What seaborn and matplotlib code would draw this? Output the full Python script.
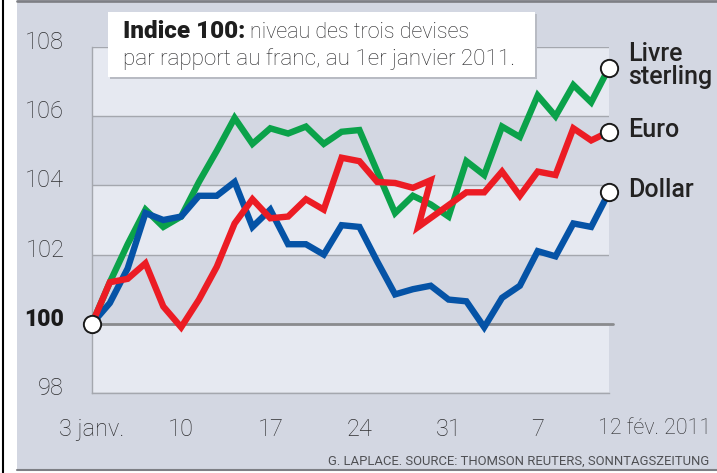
import matplotlib
matplotlib.use("Agg")
import matplotlib.pyplot as plt
import matplotlib.transforms as mtransforms
from matplotlib.patches import Rectangle
from matplotlib.lines import Line2D
import pandas as pd
import seaborn as sns

# Indice 100 au 3 janvier 2011, un point par jour de bourse
days = list(range(30))
livre = [100, 101.2, 102.3, 103.3, 102.8, 103.1, 104.1, 105.0, 105.95, 105.2,
         105.65, 105.5, 105.7, 105.2, 105.55, 105.6, 104.4, 103.2, 103.7, 103.45,
         103.1, 104.7, 104.3, 105.7, 105.4, 106.6, 106.0, 106.9, 106.4, 107.4]
dollar = [100, 100.6, 101.6, 103.2, 103.0, 103.1, 103.7, 103.7, 104.1, 102.8,
          103.3, 102.3, 102.3, 102.0, 102.85, 102.8, 101.8, 100.85, 101.0, 101.1,
          100.7, 100.65, 99.9, 100.75, 101.1, 102.1, 101.95, 102.9, 102.8, 103.8]
# the euro line doubles back on itself around 31 janv. in the original
euro_days = list(range(20)) + [18.3] + list(range(21, 30))
euro = [100, 101.2, 101.3, 101.75, 100.5, 99.9, 100.7, 101.65, 102.9, 103.6,
        103.05, 103.1, 103.6, 103.3, 104.8, 104.7, 104.1, 104.07, 103.93, 104.15,
        102.8, 103.8, 103.8, 104.4, 103.7, 104.4, 104.3, 105.65, 105.3, 105.55]

tick_days = [0, 5, 10, 15, 20, 25, 29]
tick_labels = ["3 janv.", "10", "17", "24", "31", "7", "12 fév. 2011"]
y_ticks = [98, 100, 102, 104, 106, 108]

series = ["livre", "dollar", "euro"]
series_labels = {"livre": "Livre\nsterling", "dollar": "Dollar", "euro": "Euro"}
palette = {"livre": "#0ba24a", "dollar": "#0553a6", "euro": "#ec1c24"}

df = pd.concat([
    pd.DataFrame({"jour": days, "indice": livre, "devise": "livre"}),
    pd.DataFrame({"jour": days, "indice": dollar, "devise": "dollar"}),
    pd.DataFrame({"jour": euro_days, "indice": euro, "devise": "euro"}),
], ignore_index=True)

sns.set_style("white")
plt.rcParams["font.family"] = ["Roboto", "DejaVu Sans"]

bg_dark = "#d3d7e2"
bg_light = "#e6e9f1"
grid_c = "#a4a7ae"
text_c = "#232222"
tick_c = "#2e2e30"

W, H = 717, 473
fig = plt.figure(figsize=(W / 100, H / 100), dpi=100, facecolor="white")

# gray panel behind everything
fig.patches.append(Rectangle((17 / W, 3 / H), 1, (470 - 3) / H, transform=fig.transFigure,
                             fc=bg_dark, ec="none", zorder=-10))
fig.add_artist(Line2D([2.5 / W, 2.5 / W], [0, 1], color="black", lw=1.5, transform=fig.transFigure))
fig.add_artist(Line2D([17 / W, 1], [1 - 1 / H, 1 - 1 / H], color="#7d7f85", lw=2, transform=fig.transFigure))
fig.add_artist(Line2D([17 / W, 1], [3 / H, 3 / H], color="#7d7f85", lw=1.5, transform=fig.transFigure))

ax = fig.add_axes([92 / W, (H - 393) / H, (609 - 92) / W, (393 - 47) / H])
ax.set_facecolor(bg_light)
ax.axhspan(104, 106, color=bg_dark, lw=0, zorder=0)
ax.axhspan(100, 102, color=bg_dark, lw=0, zorder=0)

sns.lineplot(data=df, x="jour", y="indice", hue="devise", hue_order=series,
             palette=palette, lw=4.6, sort=False, estimator=None, legend=False,
             ax=ax, zorder=3)
for ln in ax.get_lines():
    ln.set_solid_joinstyle("miter")
    ln.set_clip_on(False)

ax.set_xlim(0, 29)
ax.set_ylim(98, 108)

ax.set_yticks(y_ticks)
ax.set_yticklabels([str(v) for v in y_ticks])
ax.yaxis.grid(True, color=grid_c, lw=1)
ax.xaxis.grid(False)
ax.axhline(100, xmin=0, xmax=1.008, color="#8a8b8e", lw=2, zorder=1.5, clip_on=False)

ax.set_xticks(tick_days)
ax.set_xticklabels(tick_labels)
ax.set_xlabel("")
ax.set_ylabel("")

ax.tick_params(axis="y", length=11, width=1, color=grid_c, pad=9,
               labelsize=17, labelcolor=tick_c)
ax.tick_params(axis="x", length=12, width=1, color=grid_c, pad=6,
               labelsize=17, labelcolor=tick_c)
for lab in ax.get_yticklabels() + ax.get_xticklabels():
    lab.set_fontweight("light")

t100 = ax.yaxis.get_major_ticks()[1]
t100.tick1line.set_color("#8a8b8e")
t100.tick1line.set_markeredgewidth(2)
t100.label1.set_fontweight("heavy")
t100.label1.set_fontsize(16.5)
t100.label1.set_color("#1a1a1a")

up = mtransforms.ScaledTranslation(0, 5 / 72, fig.dpi_scale_trans)
for lab in ax.get_yticklabels():
    lab.set_transform(lab.get_transform() + up)
last = ax.get_xticklabels()[-1]
last.set_fontsize(15.5)
last.set_horizontalalignment("left")
last.set_transform(last.get_transform() + mtransforms.ScaledTranslation(-8 / 72, 0, fig.dpi_scale_trans))

for s in ["top", "right"]:
    ax.spines[s].set_visible(False)
for s in ["left", "bottom"]:
    ax.spines[s].set_color(grid_c)
    ax.spines[s].set_linewidth(1)

# circles at the start and at the end of each series
ends = pd.DataFrame({
    "jour": [days[0], days[-1], days[-1], euro_days[-1]],
    "indice": [livre[0], livre[-1], dollar[-1], euro[-1]],
})
sns.scatterplot(data=ends, x="jour", y="indice", s=155, color="white",
                edgecolor="#1a1a1a", linewidth=1.4, zorder=5, clip_on=False, ax=ax)
ax.set_xlabel("")
ax.set_ylabel("")

end_vals = {"livre": livre[-1], "dollar": dollar[-1], "euro": euro[-1]}
for s in series:
    ax.annotate(series_labels[s], xy=(days[-1], end_vals[s]), xytext=(13.5, 1.5),
                textcoords="offset points", ha="left", va="center", fontsize=18,
                fontweight="medium", color=text_c, linespacing=0.92,
                annotation_clip=False)

# title box
fig.patches.append(Rectangle(((108 + 2) / W, 1 - (77 + 2) / H), (535 - 108) / W, (77 - 12) / H,
                             transform=fig.transFigure, fc="#b8bbc3", ec="none", zorder=2))
fig.patches.append(Rectangle((108 / W, 1 - 77 / H), (535 - 108) / W, (77 - 12) / H,
                             transform=fig.transFigure, fc="white", ec="none", zorder=3))
t1 = fig.text(123 / W, 1 - 38 / H, "Indice 100:", fontsize=17.5, fontweight="heavy",
              color="#1e1e1e", va="baseline", ha="left", zorder=4)
fig.canvas.draw()
bb = t1.get_window_extent(renderer=fig.canvas.get_renderer())
fig.text(bb.x1 / W + 5 / W, 1 - 38 / H, "niveau des trois devises", fontsize=15.5,
         fontweight="light", color="#262628", va="baseline", ha="left", zorder=4)
fig.text(123 / W, 1 - 65 / H, "par rapport au franc, au 1er janvier 2011.", fontsize=16.2,
         fontweight="light", color="#262628", va="baseline", ha="left", zorder=4)

fig.text(328 / W, 1 - 465 / H, "G. LAPLACE. SOURCE: THOMSON REUTERS, SONNTAGSZEITUNG",
         fontsize=9.4, fontweight="normal", color="#4f5054", va="baseline", ha="left")

fig.savefig("out.png", dpi=100, facecolor="white")
